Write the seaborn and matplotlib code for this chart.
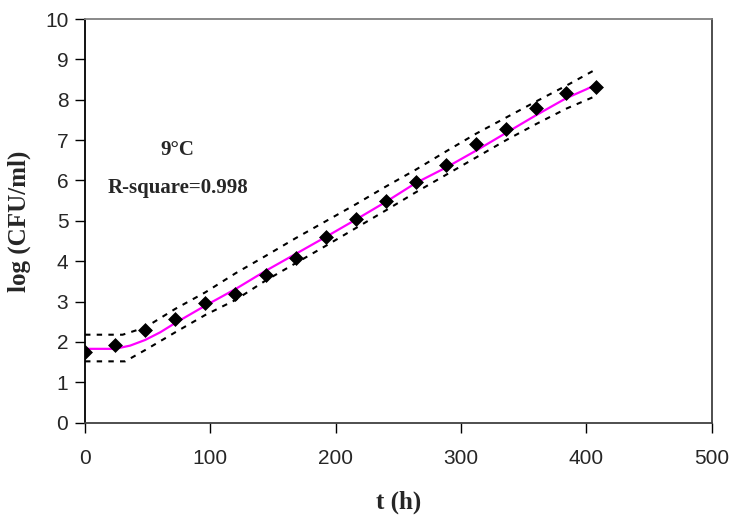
import matplotlib
matplotlib.use("Agg")
import matplotlib.pyplot as plt
import seaborn as sns
import pandas as pd

# observed data (diamonds)
t_obs = [0, 24, 48, 72, 96, 120, 144, 168, 192, 216, 240, 264, 288, 312, 336, 360, 384, 408]
logc_obs = [1.74, 1.93, 2.30, 2.57, 2.96, 3.20, 3.66, 4.07, 4.61, 5.04, 5.49, 5.96, 6.38, 6.90, 7.27, 7.79, 8.17, 8.31]

# fitted curve (magenta)
t_fit = [0, 24, 36, 48, 60, 72, 96, 120, 144, 168, 192, 216, 240, 264, 288, 312, 336, 360, 384, 400, 408]
logc_fit = [1.83, 1.83, 1.91, 2.05, 2.24, 2.47, 2.90, 3.31, 3.76, 4.18, 4.60, 5.03, 5.47, 5.94, 6.32, 6.74, 7.18, 7.62, 8.04, 8.26, 8.38]

# upper confidence band (dotted)
t_up = [0, 30, 48, 72, 96, 120, 144, 168, 192, 216, 240, 264, 288, 312, 336, 360, 384, 408]
logc_up = [2.18, 2.18, 2.36, 2.82, 3.23, 3.70, 4.13, 4.57, 4.99, 5.41, 5.85, 6.27, 6.72, 7.16, 7.56, 7.96, 8.35, 8.76]

# lower confidence band (dotted)
t_lo = [0, 32, 48, 72, 96, 120, 144, 168, 192, 216, 240, 264, 288, 312, 336, 360, 384, 408]
logc_lo = [1.52, 1.52, 1.80, 2.24, 2.67, 3.04, 3.52, 3.95, 4.38, 4.82, 5.26, 5.71, 6.14, 6.57, 7.00, 7.40, 7.78, 8.10]

x_ticks = [0, 100, 200, 300, 400, 500]
y_ticks = [0, 1, 2, 3, 4, 5, 6, 7, 8, 9, 10]

sns.set_style("white")
plt.rcParams['font.family'] = ['Liberation Sans', 'DejaVu Sans']

fig = plt.figure(figsize=(7.33, 5.22), dpi=100)
ax = fig.add_axes([0.116, 0.1902, 0.855, 0.7734])

df_obs = pd.DataFrame({"t": t_obs, "y": logc_obs})
df_fit = pd.DataFrame({"t": t_fit, "y": logc_fit})
df_up = pd.DataFrame({"t": t_up, "y": logc_up})
df_lo = pd.DataFrame({"t": t_lo, "y": logc_lo})

dash = (0, (2.6, 3.0))
sns.lineplot(data=df_up, x="t", y="y", ax=ax, color="black", linewidth=1.5, linestyle=dash, zorder=2)
sns.lineplot(data=df_lo, x="t", y="y", ax=ax, color="black", linewidth=1.5, linestyle=dash, zorder=2)
sns.lineplot(data=df_fit, x="t", y="y", ax=ax, color="#FF00FF", linewidth=1.6, zorder=3)
sns.scatterplot(data=df_obs, x="t", y="y", ax=ax, marker="D", s=50, color="black",
                edgecolor="black", linewidth=0.5, zorder=4)

ax.set_xlim(0, 500)
ax.set_ylim(0, 10)
ax.set_xticks(x_ticks)
ax.set_yticks(y_ticks)
ax.tick_params(axis="both", which="major", direction="out", length=7, width=1,
               labelsize=15, color="black", bottom=True, left=True)
ax.tick_params(axis="x", pad=12)
ax.tick_params(axis="y", pad=5)

for side in ["left", "bottom", "right", "top"]:
    ax.spines[side].set_visible(True)
ax.spines["left"].set_color("black")
ax.spines["bottom"].set_color("#404040")
ax.spines["right"].set_color("#404040")
ax.spines["top"].set_color("#808080")
for s in ax.spines.values():
    s.set_linewidth(1.3)

serif = ['Liberation Serif', 'DejaVu Serif']
ax.set_xlabel("t (h)", fontsize=18, fontweight="bold", family=serif, labelpad=16)
ax.set_ylabel("log (CFU/ml)", fontsize=18, fontweight="bold", family=serif, labelpad=10)

ax.text(74, 6.75, "9°C", fontsize=15, fontweight="bold", family=serif, ha="center", va="center")
ax.text(74, 5.81, "R-square=0.998", fontsize=15, fontweight="bold", family=serif, ha="center", va="center")

fig.savefig("out.png", dpi=100)
